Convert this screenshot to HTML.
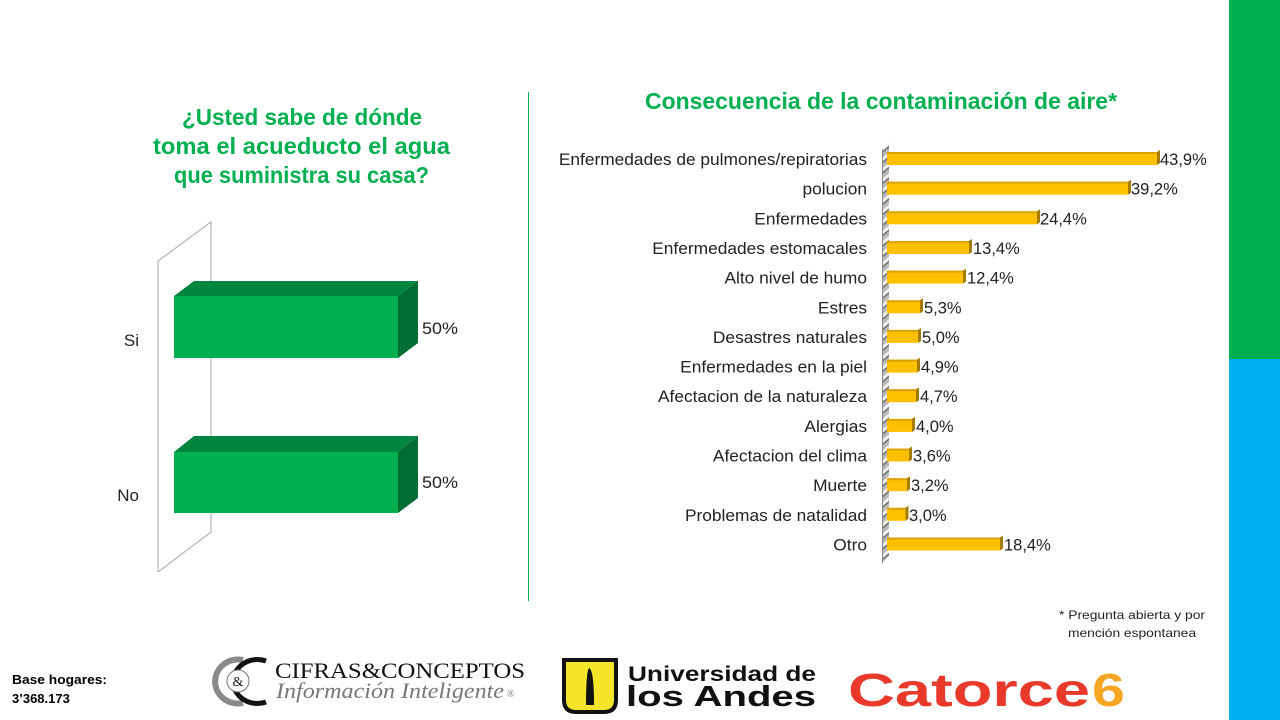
<!DOCTYPE html>
<html><head><meta charset="utf-8"><style>
html,body{margin:0;padding:0;background:#fff;}
svg{display:block;font-family:"Liberation Sans",Arial,sans-serif;}
</style></head><body>
<svg width="1280" height="720" viewBox="0 0 1280 720" xmlns="http://www.w3.org/2000/svg">
<defs>
<pattern id="stripe" patternUnits="userSpaceOnUse" width="8" height="8" patternTransform="rotate(-40)">
<rect width="8" height="8" fill="#b8b8b8"/>
<rect width="8" height="3" fill="#f0f0f0"/>
<rect y="3" width="8" height="1.5" fill="#6f6f6f"/>
</pattern>
</defs>
<rect x="0" y="0" width="1280" height="720" fill="#fff"/>
<!-- right side color bars -->
<rect x="1229" y="0" width="51" height="359" fill="#00B050"/>
<rect x="1229" y="359" width="51" height="361" fill="#00B0F0"/>

<!-- left title -->
<g fill="#00B050" font-weight="bold" font-size="23">
<text x="182" y="125" textLength="240" lengthAdjust="spacingAndGlyphs">¿Usted sabe de dónde</text>
<text x="153" y="154" textLength="297" lengthAdjust="spacingAndGlyphs">toma el acueducto el agua</text>
<text x="174" y="183" textLength="255" lengthAdjust="spacingAndGlyphs">que suministra su casa?</text>
</g>

<!-- left chart wall -->
<g fill="none" stroke="#a6a6a6" stroke-width="1">
<polyline points="158,572 158,261 211,222 211,532 158,572"/>
</g>
<!-- Si bar -->
<polygon points="174,296 194,281 418,281 398,296" fill="#00853F"/>
<polygon points="398,296 418,281 418,343 398,358" fill="#006E33"/>
<rect x="174" y="296" width="224" height="62" fill="#00B050"/>
<!-- No bar -->
<polygon points="174,452 194,436 418,436 398,452" fill="#00853F"/>
<polygon points="398,452 418,436 418,498 398,513" fill="#006E33"/>
<rect x="174" y="452" width="224" height="61" fill="#00B050"/>
<g font-size="17" fill="#222">
<text x="139" y="346" text-anchor="end">Si</text>
<text x="139" y="501" text-anchor="end">No</text>
<text x="422" y="334" textLength="36" lengthAdjust="spacingAndGlyphs">50%</text>
<text x="422" y="488" textLength="36" lengthAdjust="spacingAndGlyphs">50%</text>
</g>

<!-- divider -->
<line x1="528.5" y1="92" x2="528.5" y2="601" stroke="#00B050" stroke-width="1"/>

<!-- right title -->
<text x="645" y="109" fill="#00B050" font-weight="bold" font-size="23" textLength="472" lengthAdjust="spacingAndGlyphs">Consecuencia de la contaminación de aire*</text>

<!-- right chart wall -->
<polygon points="882,149 889,142 889,556 882,563" fill="url(#stripe)"/>
<line x1="882.5" y1="149" x2="882.5" y2="563" stroke="#8a8a8a" stroke-width="1"/>

<g font-size="17" fill="#222">
<g transform="translate(867,0) scale(1.02,1)">
<text x="0" y="165" text-anchor="end">Enfermedades de pulmones/repiratorias</text>
<text x="0" y="194.7" text-anchor="end">polucion</text>
<text x="0" y="224.3" text-anchor="end">Enfermedades</text>
<text x="0" y="254" text-anchor="end">Enfermedades estomacales</text>
<text x="0" y="283.6" text-anchor="end">Alto nivel de humo</text>
<text x="0" y="313.3" text-anchor="end">Estres</text>
<text x="0" y="342.9" text-anchor="end">Desastres naturales</text>
<text x="0" y="372.6" text-anchor="end">Enfermedades en la piel</text>
<text x="0" y="402.2" text-anchor="end">Afectacion de la naturaleza</text>
<text x="0" y="431.9" text-anchor="end">Alergias</text>
<text x="0" y="461.5" text-anchor="end">Afectacion del clima</text>
<text x="0" y="491.2" text-anchor="end">Muerte</text>
<text x="0" y="520.8" text-anchor="end">Problemas de natalidad</text>
<text x="0" y="550.5" text-anchor="end">Otro</text>
</g>
</g>

<!-- bar shapes -->
<g>
<g><rect x="887" y="152" width="270" height="13" fill="#FFC000"/><rect x="887" y="152" width="270" height="2" fill="#D9A300"/><polygon points="1157,152 1160,150 1160,163 1157,165" fill="#A67C00"/></g>
<g><rect x="887" y="181.7" width="241" height="13" fill="#FFC000"/><rect x="887" y="181.7" width="241" height="2" fill="#D9A300"/><polygon points="1128,181.7 1131,179.7 1131,192.7 1128,194.7" fill="#A67C00"/></g>
<g><rect x="887" y="211.3" width="150" height="13" fill="#FFC000"/><rect x="887" y="211.3" width="150" height="2" fill="#D9A300"/><polygon points="1037,211.3 1040,209.3 1040,222.3 1037,224.3" fill="#A67C00"/></g>
<g><rect x="887" y="241" width="82" height="13" fill="#FFC000"/><rect x="887" y="241" width="82" height="2" fill="#D9A300"/><polygon points="969,241 972,239 972,252 969,254" fill="#A67C00"/></g>
<g><rect x="887" y="270.6" width="76" height="13" fill="#FFC000"/><rect x="887" y="270.6" width="76" height="2" fill="#D9A300"/><polygon points="963,270.6 966,268.6 966,281.6 963,283.6" fill="#A67C00"/></g>
<g><rect x="887" y="300.3" width="33" height="13" fill="#FFC000"/><rect x="887" y="300.3" width="33" height="2" fill="#D9A300"/><polygon points="920,300.3 923,298.3 923,311.3 920,313.3" fill="#A67C00"/></g>
<g><rect x="887" y="329.9" width="31" height="13" fill="#FFC000"/><rect x="887" y="329.9" width="31" height="2" fill="#D9A300"/><polygon points="918,329.9 921,327.9 921,340.9 918,342.9" fill="#A67C00"/></g>
<g><rect x="887" y="359.6" width="30" height="13" fill="#FFC000"/><rect x="887" y="359.6" width="30" height="2" fill="#D9A300"/><polygon points="917,359.6 920,357.6 920,370.6 917,372.6" fill="#A67C00"/></g>
<g><rect x="887" y="389.2" width="29" height="13" fill="#FFC000"/><rect x="887" y="389.2" width="29" height="2" fill="#D9A300"/><polygon points="916,389.2 919,387.2 919,400.2 916,402.2" fill="#A67C00"/></g>
<g><rect x="887" y="418.9" width="25" height="13" fill="#FFC000"/><rect x="887" y="418.9" width="25" height="2" fill="#D9A300"/><polygon points="912,418.9 915,416.9 915,429.9 912,431.9" fill="#A67C00"/></g>
<g><rect x="887" y="448.5" width="22" height="13" fill="#FFC000"/><rect x="887" y="448.5" width="22" height="2" fill="#D9A300"/><polygon points="909,448.5 912,446.5 912,459.5 909,461.5" fill="#A67C00"/></g>
<g><rect x="887" y="478.2" width="20" height="13" fill="#FFC000"/><rect x="887" y="478.2" width="20" height="2" fill="#D9A300"/><polygon points="907,478.2 910,476.2 910,489.2 907,491.2" fill="#A67C00"/></g>
<g><rect x="887" y="507.8" width="18.5" height="13" fill="#FFC000"/><rect x="887" y="507.8" width="18.5" height="2" fill="#D9A300"/><polygon points="905.5,507.8 908.5,505.8 908.5,518.8 905.5,520.8" fill="#A67C00"/></g>
<g><rect x="887" y="537.5" width="113" height="13" fill="#FFC000"/><rect x="887" y="537.5" width="113" height="2" fill="#D9A300"/><polygon points="1000,537.5 1003,535.5 1003,548.5 1000,550.5" fill="#A67C00"/></g>
</g>
<g font-size="16.5" fill="#222">
<text x="1160" y="165">43,9%</text>
<text x="1131" y="194.7">39,2%</text>
<text x="1040" y="224.3">24,4%</text>
<text x="973" y="254">13,4%</text>
<text x="967" y="283.6">12,4%</text>
<text x="924" y="313.3">5,3%</text>
<text x="922" y="342.9">5,0%</text>
<text x="921" y="372.6">4,9%</text>
<text x="920" y="402.2">4,7%</text>
<text x="916" y="431.9">4,0%</text>
<text x="913" y="461.5">3,6%</text>
<text x="911" y="491.2">3,2%</text>
<text x="909" y="520.8">3,0%</text>
<text x="1004" y="550.5">18,4%</text>
</g>

<!-- footnote -->
<g font-size="12" fill="#222">
<text x="1059" y="619" textLength="146" lengthAdjust="spacingAndGlyphs">* Pregunta abierta y por</text>
<text x="1068" y="637" textLength="128" lengthAdjust="spacingAndGlyphs">mención espontanea</text>
</g>

<!-- base hogares -->
<g font-size="13" font-weight="bold" fill="#000">
<text x="12" y="684" textLength="95" lengthAdjust="spacingAndGlyphs">Base hogares:</text>
<text x="12" y="703">3’368.173</text>
</g>

<!-- Cifras & Conceptos logo -->
<g>
<path d="M 243 660 A 23 22 0 1 0 243 703" fill="none" stroke="#8a8a8a" stroke-width="6"/>
<path d="M 266 661 A 24 22 0 1 0 266 702" fill="none" stroke="#111" stroke-width="5"/>
<circle cx="238" cy="681" r="11" fill="#fff" stroke="#777" stroke-width="1"/>
<text x="238" y="686" font-family="'Liberation Serif',serif" font-size="14" text-anchor="middle" fill="#111">&amp;</text>
<text x="275" y="678" font-family="'Liberation Serif',serif" font-size="22" fill="#111" textLength="250" lengthAdjust="spacingAndGlyphs">CIFRAS&amp;CONCEPTOS</text>
<text x="276" y="698" font-family="'Liberation Serif',serif" font-style="italic" font-size="22" fill="#777" textLength="228" lengthAdjust="spacingAndGlyphs">Información Inteligente</text>
<text x="507" y="697" font-family="'Liberation Serif',serif" font-size="10" fill="#777">®</text>
</g>

<!-- Universidad de los Andes -->
<g>
<path d="M 564 660 L 616 660 L 616 700 Q 616 712 604 712 L 576 712 Q 564 712 564 700 Z" fill="#F5E52A" stroke="#111" stroke-width="4"/>
<path d="M 589 668 Q 594 670 594 705 L 586 705 Q 586 672 589 668 Z" fill="#111"/>
<text x="628" y="681" font-size="21" font-weight="bold" fill="#111" textLength="188" lengthAdjust="spacingAndGlyphs">Universidad de</text>
<text x="626" y="706" font-size="29" font-weight="bold" fill="#111" textLength="190" lengthAdjust="spacingAndGlyphs">los Andes</text>
</g>

<!-- Catorce6 -->
<g font-weight="bold">
<text x="848" y="706" font-size="46" fill="#E8392A" textLength="242" lengthAdjust="spacingAndGlyphs">Catorce</text>
<text x="1092" y="706" font-size="46" fill="#F5A623" textLength="33" lengthAdjust="spacingAndGlyphs">6</text>
</g>
</svg>
</body></html>
